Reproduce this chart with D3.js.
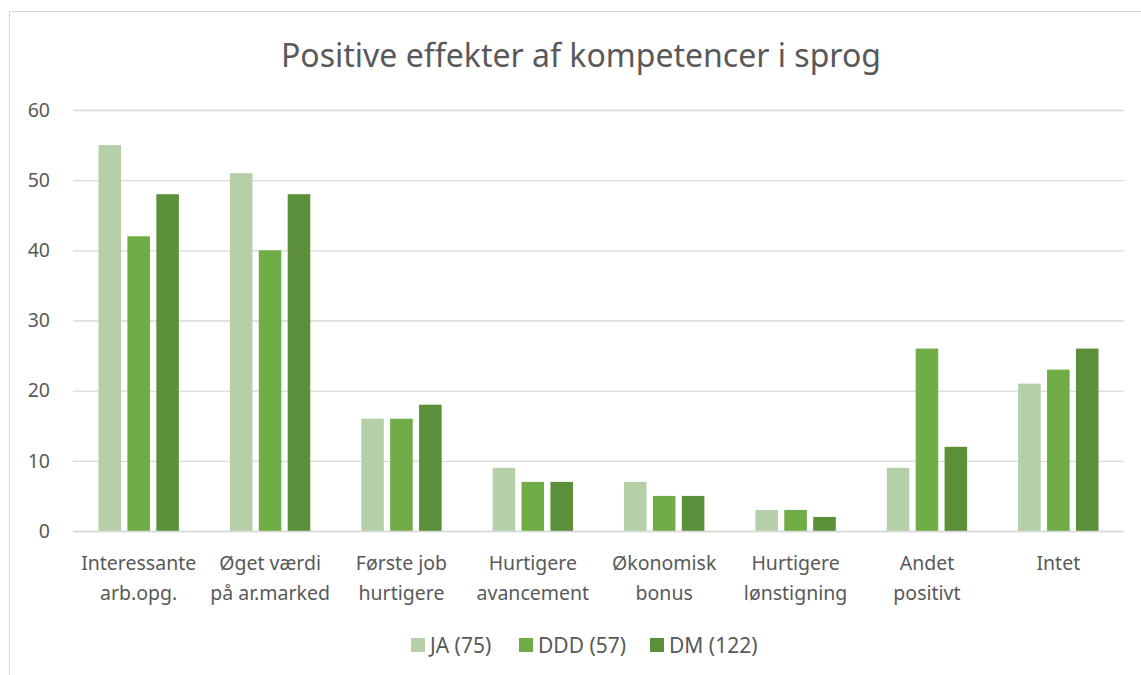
<!DOCTYPE html>
<html>
<head>
<meta charset="utf-8">
<script src="https://cdn.jsdelivr.net/npm/d3@7"></script>
<style>
  body { margin: 0; background: #fff; }
  svg, svg text { font-family: "Noto Sans", "Open Sans", sans-serif; }
</style>
</head>
<body>
<div id="chart"></div>
<script>
// data
const categories = [
    ["Interessante", "arb.opg."],
    ["Øget værdi", "på ar.marked"],
    ["Første job", "hurtigere"],
    ["Hurtigere", "avancement"],
    ["Økonomisk", "bonus"],
    ["Hurtigere", "lønstigning"],
    ["Andet", "positivt"],
    ["Intet"]
];
const seriesNames = ["JA (75)", "DDD (57)", "DM (122)"];
const ja = [55, 51, 16, 9, 7, 3, 9, 21];
const ddd = [42, 40, 16, 7, 5, 3, 26, 23];
const dm = [48, 48, 18, 7, 5, 2, 12, 26];
const yTicks = [0, 10, 20, 30, 40, 50, 60];
const colors = ["#b5d0a8", "#70ad47", "#5b8f3a"];

const W = 1141, H = 675;
const margin = { top: 110, right: 17, bottom: 144, left: 73 },
    width = W - margin.left - margin.right,
    height = H - margin.top - margin.bottom;

const svg = d3.select("#chart")
    .append("svg")
    .attr("width", W)
    .attr("height", H);

// outer chart border
svg.append("rect")
    .attr("x", 9.5).attr("y", 11.5)
    .attr("width", W + 10).attr("height", H + 10)
    .attr("fill", "none")
    .attr("stroke", "#d9d9d9");

svg.append("text")
    .attr("x", 581)
    .attr("y", 67)
    .attr("text-anchor", "middle")
    .attr("fill", "#595959")
    .style("font-size", "32px")
    .text("Positive effekter af kompetencer i sprog");

const g = svg.append("g")
    .attr("transform", `translate(${margin.left}, ${margin.top})`);

const keys = categories.map((d, i) => i);
const x = d3.scaleBand()
    .domain(keys)
    .range([0, width])
    .paddingInner(0)
    .paddingOuter(0);

const x1 = d3.scaleBand()
    .domain([0, 1, 2])
    .range([25.5, x.bandwidth() - 25.5])
    .paddingInner(0.22)
    .paddingOuter(0);

const y = d3.scaleLinear()
    .domain([0, 60])
    .range([height, 0]);

// gridlines + y labels
const yAxis = g.append("g")
    .call(d3.axisLeft(y).tickValues(yTicks).tickSize(-width).tickPadding(23));
yAxis.attr("font-family", null);
yAxis.select(".domain").remove();
yAxis.selectAll(".tick line")
    .attr("stroke", "#d9d9d9")
    .attr("stroke-width", 1.3);
yAxis.selectAll(".tick text")
    .attr("fill", "#595959")
    .style("font-size", "19.5px")
    .style("font-family", "'Noto Sans', sans-serif");

const series = [ja, ddd, dm];
const groups = g.selectAll(".grp")
    .data(keys)
    .join("g")
    .attr("class", "grp")
    .attr("transform", d => `translate(${x(d)}, 0)`);

groups.selectAll("rect")
    .data(i => series.map((s, j) => ({ j, v: s[i] })))
    .join("rect")
    .attr("x", d => x1(d.j))
    .attr("y", d => y(d.v))
    .attr("width", x1.bandwidth())
    .attr("height", d => height - y(d.v))
    .attr("fill", d => colors[d.j]);

// x baseline on top of bars
g.append("line")
    .attr("x1", 0).attr("x2", width)
    .attr("y1", height + 0.5).attr("y2", height + 0.5)
    .attr("stroke", "#d9d9d9")
    .attr("stroke-width", 1.3);

// category labels
const lab = g.selectAll(".cat")
    .data(keys)
    .join("text")
    .attr("class", "cat")
    .attr("text-anchor", "middle")
    .attr("fill", "#595959")
    .style("font-size", "19.5px")
    .attr("transform", d => `translate(${x(d) + x.bandwidth() / 2}, ${height + 39})`);
lab.selectAll("tspan")
    .data(d => categories[d])
    .join("tspan")
    .attr("x", 0)
    .attr("dy", (d, i) => i === 0 ? 0 : 30)
    .text(d => d);

// legend
const legendX = [411, 519, 650];
const legend = svg.append("g");
const items = legend.selectAll("g")
    .data(seriesNames)
    .join("g")
    .attr("transform", (d, i) => `translate(${legendX[i]}, 638)`);
items.append("rect")
    .attr("width", 14).attr("height", 14)
    .attr("fill", (d, i) => colors[i]);
items.append("text")
    .attr("x", 19)
    .attr("y", 14.5)
    .attr("fill", "#595959")
    .style("font-size", "21px")
    .text(d => d);
</script>
</body>
</html>
